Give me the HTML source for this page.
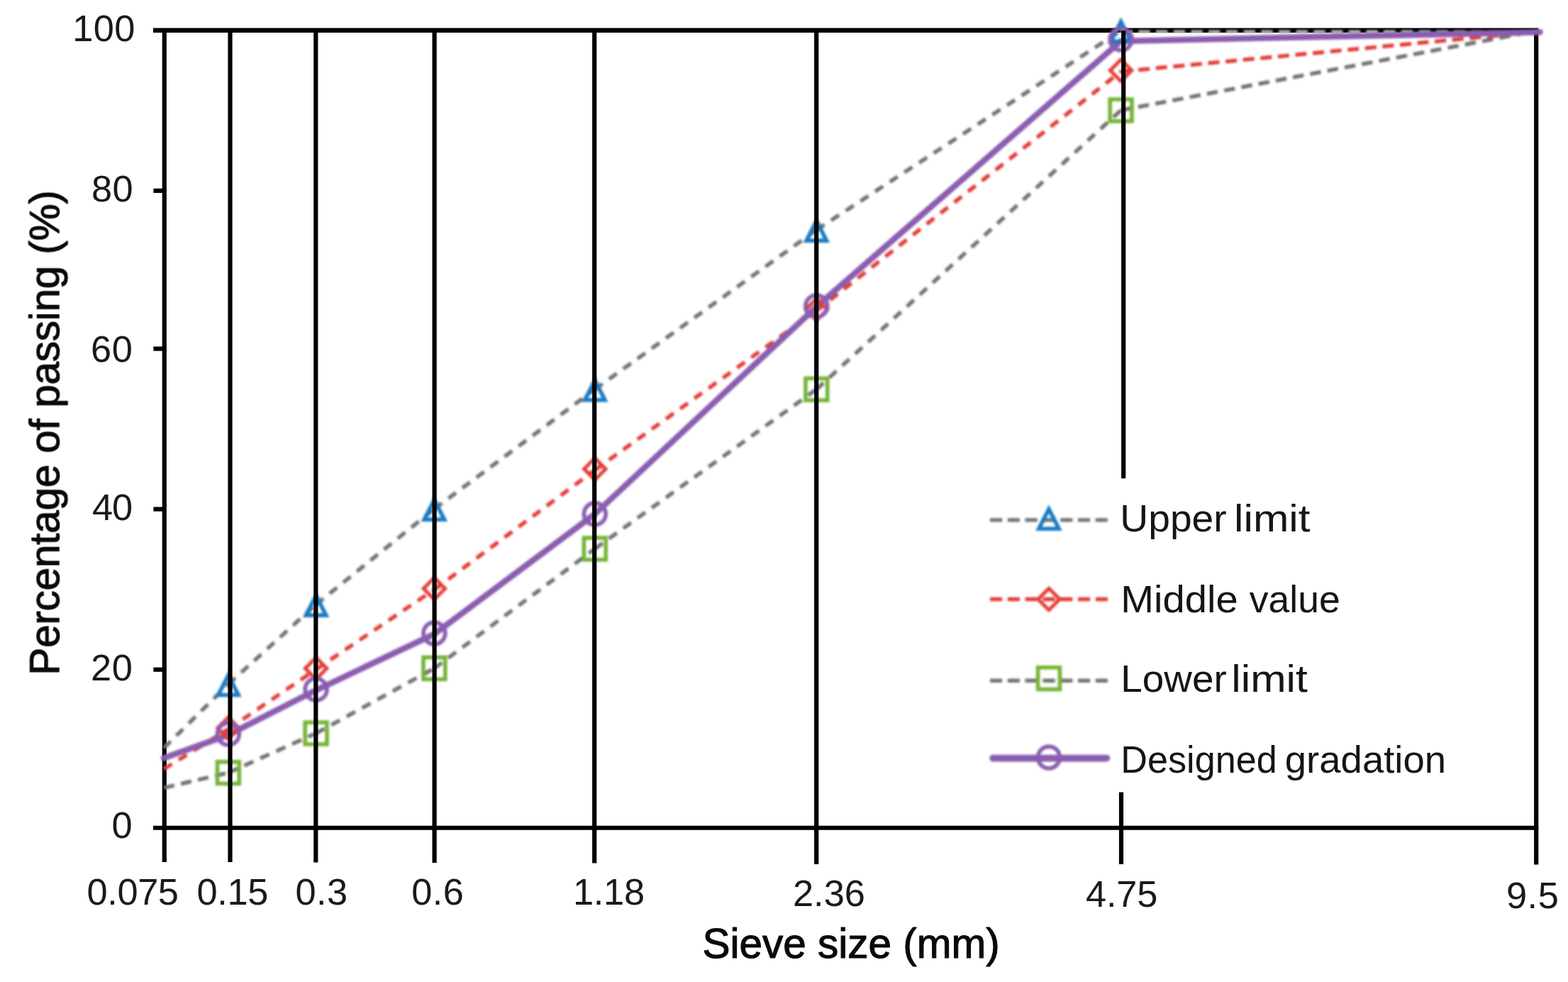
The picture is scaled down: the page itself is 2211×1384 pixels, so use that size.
<!DOCTYPE html>
<html lang="en">
<head>
<meta charset="utf-8">
<title>Gradation curve - percentage of passing vs sieve size</title>
<style>
html,body{margin:0;padding:0;background:#fff;}
body{width:2211px;height:1384px;overflow:hidden;}
svg{display:block;}
text{font-family:"Liberation Sans",sans-serif;fill:#1a1a1a;}
.tick{font-size:52.4px;}
.title{font-size:58.5px;fill:#0a0a0a;stroke:#0a0a0a;stroke-width:1.1px;stroke-linejoin:round;}
.leg{font-size:53px;fill:#151515;}
</style>
</head>
<body>
<svg width="2211" height="1384" viewBox="0 0 2211 1384">
<defs>
<filter id="fa" x="0" y="0" width="2211" height="1384" filterUnits="userSpaceOnUse" color-interpolation-filters="sRGB"><feGaussianBlur stdDeviation="0.75"/></filter>
<filter id="fb" x="0" y="0" width="2211" height="1384" filterUnits="userSpaceOnUse" color-interpolation-filters="sRGB"><feGaussianBlur stdDeviation="1.35"/></filter>
</defs>
<rect x="0" y="0" width="2211" height="1384" fill="#ffffff"/>
<g stroke="#000" stroke-width="6.2" fill="none" filter="url(#fa)">
<line x1="216" y1="42.7" x2="2169.3" y2="42.7" stroke-width="6.5"/>
<line x1="216" y1="1166.8" x2="2169.3" y2="1166.8" stroke-width="6.1"/>
<line x1="216.4" y1="943.7" x2="231.8" y2="943.7"/>
<line x1="216.4" y1="717.6" x2="231.8" y2="717.6"/>
<line x1="216.4" y1="491.5" x2="231.8" y2="491.5"/>
<line x1="216.4" y1="268.8" x2="231.8" y2="268.8"/>
<line x1="231.8" y1="43.1" x2="231.8" y2="1215"/>
<line x1="2166.2" y1="43.1" x2="2166.2" y2="1218.5"/>
</g>
<g filter="url(#fb)">
<g fill="none" stroke-width="5.5">
<line x1="231.0" y1="1054.2" x2="321.9" y2="964.4" stroke="#727272" stroke-dasharray="13.4 11.3"/>
<line x1="321.9" y1="964.4" x2="445.6" y2="852.0" stroke="#727272" stroke-dasharray="13.4 11.3"/>
<line x1="445.6" y1="852.0" x2="612.4" y2="717.2" stroke="#727272" stroke-dasharray="13.4 11.3"/>
<line x1="612.4" y1="717.2" x2="838.8" y2="548.7" stroke="#727272" stroke-dasharray="13.4 11.3"/>
<line x1="838.8" y1="548.7" x2="1151.3" y2="324.0" stroke="#727272" stroke-dasharray="13.4 11.3"/>
<line x1="1151.3" y1="324.0" x2="1580.6" y2="43.1" stroke="#727272" stroke-dasharray="13.4 11.3"/>
<line x1="1580.6" y1="44.6" x2="2168.5" y2="44.6" stroke="#c4c4c4" stroke-width="4" stroke-dasharray="16.5 8.2"/>
<line x1="231.0" y1="1110.4" x2="321.9" y2="1089.1" stroke="#727272" stroke-dasharray="15.2 9.5"/>
<line x1="321.9" y1="1089.1" x2="445.6" y2="1033.5" stroke="#727272" stroke-dasharray="14.1 10.6"/>
<line x1="445.6" y1="1033.5" x2="612.4" y2="941.9" stroke="#727272" stroke-dasharray="13.6 11.1"/>
<line x1="612.4" y1="941.9" x2="838.8" y2="773.4" stroke="#727272" stroke-dasharray="13.4 11.3"/>
<line x1="838.8" y1="773.4" x2="1151.3" y2="548.7" stroke="#727272" stroke-dasharray="13.4 11.3"/>
<line x1="1151.3" y1="548.7" x2="1580.6" y2="155.4" stroke="#727272" stroke-dasharray="13.4 11.3"/>
<line x1="1580.6" y1="155.4" x2="2168.5" y2="43.1" stroke="#727272" stroke-dasharray="15.4 9.3"/>
<line x1="231.0" y1="1083.8" x2="321.9" y2="1027.7" stroke="#e43c36" stroke-dasharray="13.4 11.3"/>
<line x1="321.9" y1="1027.7" x2="445.6" y2="943.4" stroke="#e43c36" stroke-dasharray="13.4 11.3"/>
<line x1="445.6" y1="943.4" x2="612.4" y2="831.0" stroke="#e43c36" stroke-dasharray="13.4 11.3"/>
<line x1="612.4" y1="831.0" x2="838.8" y2="662.5" stroke="#e43c36" stroke-dasharray="13.4 11.3"/>
<line x1="838.8" y1="662.5" x2="1151.3" y2="437.8" stroke="#e43c36" stroke-dasharray="13.4 11.3"/>
<line x1="1151.3" y1="437.8" x2="1580.6" y2="100.8" stroke="#e43c36" stroke-dasharray="13.4 11.3"/>
<line x1="1580.6" y1="100.8" x2="2168.5" y2="44.6" stroke="#e43c36" stroke-dasharray="16.0 8.7"/>
</g>
<polyline points="231.0,1068.4 321.9,1035.7 445.6,972.8 612.4,893.6 838.8,724.5 1151.3,432.3 1580.6,57.9 2171.5,45.3" fill="none" stroke="#8a5db0" stroke-width="8.5" stroke-linejoin="round" stroke-linecap="round"/>
<path d="M321.9,951.8 L336.1,979.5 L307.7,979.5 Z" fill="none" stroke="#177ac4" stroke-width="5.6" stroke-linejoin="miter"/>
<rect x="306.5" y="1073.7" width="30.8" height="30.8" fill="none" stroke="#74b336" stroke-width="5.6"/>
<path d="M321.9,1011.0 L337.1,1026.2 L321.9,1041.4 L306.7,1026.2 Z" fill="none" stroke="#e43c36" stroke-width="5.0" stroke-linejoin="miter"/>
<circle cx="321.9" cy="1034.5" r="15.4" fill="none" stroke="#8a5db0" stroke-width="5.7"/>
<path d="M445.6,839.4 L459.8,867.1 L431.4,867.1 Z" fill="none" stroke="#177ac4" stroke-width="5.6" stroke-linejoin="miter"/>
<rect x="430.2" y="1018.1" width="30.8" height="30.8" fill="none" stroke="#74b336" stroke-width="5.6"/>
<path d="M445.6,926.7 L460.8,941.9 L445.6,957.1 L430.4,941.9 Z" fill="none" stroke="#e43c36" stroke-width="5.0" stroke-linejoin="miter"/>
<circle cx="445.6" cy="971.7" r="15.4" fill="none" stroke="#8a5db0" stroke-width="5.7"/>
<path d="M612.4,704.6 L626.6,732.3 L598.2,732.3 Z" fill="none" stroke="#177ac4" stroke-width="5.6" stroke-linejoin="miter"/>
<rect x="597.0" y="926.5" width="30.8" height="30.8" fill="none" stroke="#74b336" stroke-width="5.6"/>
<path d="M612.4,814.3 L627.6,829.5 L612.4,844.8 L597.2,829.5 Z" fill="none" stroke="#e43c36" stroke-width="5.0" stroke-linejoin="miter"/>
<circle cx="612.4" cy="892.5" r="15.4" fill="none" stroke="#8a5db0" stroke-width="5.7"/>
<path d="M838.8,536.1 L853.0,563.8 L824.6,563.8 Z" fill="none" stroke="#177ac4" stroke-width="5.6" stroke-linejoin="miter"/>
<rect x="823.4" y="758.0" width="30.8" height="30.8" fill="none" stroke="#74b336" stroke-width="5.6"/>
<path d="M838.8,645.8 L854.0,661.0 L838.8,676.2 L823.6,661.0 Z" fill="none" stroke="#e43c36" stroke-width="5.0" stroke-linejoin="miter"/>
<circle cx="838.8" cy="724.3" r="15.4" fill="none" stroke="#8a5db0" stroke-width="5.7"/>
<path d="M1151.3,311.4 L1165.5,339.1 L1137.1,339.1 Z" fill="none" stroke="#177ac4" stroke-width="5.6" stroke-linejoin="miter"/>
<rect x="1135.9" y="533.3" width="30.8" height="30.8" fill="none" stroke="#74b336" stroke-width="5.6"/>
<path d="M1151.3,421.1 L1166.5,436.3 L1151.3,451.5 L1136.1,436.3 Z" fill="none" stroke="#e43c36" stroke-width="5.0" stroke-linejoin="miter"/>
<circle cx="1151.3" cy="431.4" r="15.4" fill="none" stroke="#8a5db0" stroke-width="5.7"/>
<path d="M1580.6,30.5 L1594.8,58.2 L1566.4,58.2 Z" fill="none" stroke="#177ac4" stroke-width="5.6" stroke-linejoin="miter"/>
<rect x="1565.2" y="140.0" width="30.8" height="30.8" fill="none" stroke="#74b336" stroke-width="5.6"/>
<path d="M1580.6,84.1 L1595.8,99.3 L1580.6,114.5 L1565.4,99.3 Z" fill="none" stroke="#e43c36" stroke-width="5.0" stroke-linejoin="miter"/>
<circle cx="1580.6" cy="55.5" r="15.4" fill="none" stroke="#8a5db0" stroke-width="5.7"/>
</g>
<g stroke="#000" stroke-width="6.2" fill="none" filter="url(#fa)">
<line x1="324.5" y1="43.1" x2="324.5" y2="1215"/>
<line x1="445.3" y1="43.1" x2="445.3" y2="1215.5"/>
<line x1="612.6" y1="43.1" x2="612.6" y2="1216"/>
<line x1="838.2" y1="43.1" x2="838.2" y2="1216.5"/>
<line x1="1151.2" y1="43.1" x2="1151.2" y2="1218"/>
<line x1="1584.2" y1="43.1" x2="1584.2" y2="674.3"/>
<line x1="1581.0" y1="1116.5" x2="1581.0" y2="1218"/>
</g>
<g filter="url(#fb)">
<line x1="1396" y1="732.9" x2="1562" y2="732.9" stroke="#727272" stroke-width="5.4" stroke-dasharray="17.2 7.6"/>
<path d="M1479.0,717.5 L1493.2,745.2 L1464.8,745.2 Z" fill="none" stroke="#177ac4" stroke-width="5.6" stroke-linejoin="miter"/>
<line x1="1396" y1="844.5" x2="1562" y2="844.5" stroke="#e43c36" stroke-width="5.4" stroke-dasharray="17.2 7.6"/>
<path d="M1479.0,829.3 L1494.2,844.5 L1479.0,859.7 L1463.8,844.5 Z" fill="none" stroke="#e43c36" stroke-width="5.0" stroke-linejoin="miter"/>
<line x1="1396" y1="959.2" x2="1562" y2="959.2" stroke="#727272" stroke-width="5.4" stroke-dasharray="17.2 7.6"/>
<rect x="1463.6" y="940.7" width="30.8" height="30.8" fill="none" stroke="#74b336" stroke-width="5.6"/>
<line x1="1400" y1="1068.6" x2="1560.5" y2="1068.6" stroke="#8a5db0" stroke-width="9.6" stroke-linecap="round"/>
<circle cx="1479.0" cy="1067.5" r="15.4" fill="none" stroke="#8a5db0" stroke-width="5.7"/>
</g>
<g filter="url(#fa)">
<text class="leg" y="749.0"><tspan x="1579.3" textLength="150.4" lengthAdjust="spacingAndGlyphs">Upper</tspan> <tspan x="1740.1" textLength="107.5" lengthAdjust="spacingAndGlyphs">limit</tspan></text>
<text class="leg" y="863.4"><tspan x="1580.3" textLength="165.4" lengthAdjust="spacingAndGlyphs">Middle</tspan> <tspan x="1761.8" textLength="127.9" lengthAdjust="spacingAndGlyphs">value</tspan></text>
<text class="leg" y="974.8"><tspan x="1580.3" textLength="149.4" lengthAdjust="spacingAndGlyphs">Lower</tspan> <tspan x="1736.3" textLength="107.5" lengthAdjust="spacingAndGlyphs">limit</tspan></text>
<text class="leg" y="1089.0"><tspan x="1580.3" textLength="220.5" lengthAdjust="spacingAndGlyphs">Designed</tspan> <tspan x="1811.8" textLength="227.3" lengthAdjust="spacingAndGlyphs">gradation</tspan></text>
<text class="tick" x="102.2" y="57.8" textLength="88.1" lengthAdjust="spacing">100</text>
<text class="tick" x="128.9" y="283.8" textLength="58.8" lengthAdjust="spacing">80</text>
<text class="tick" x="128.0" y="510.0" textLength="59.0" lengthAdjust="spacing">60</text>
<text class="tick" x="130.0" y="732.7" textLength="57.2" lengthAdjust="spacing">40</text>
<text class="tick" x="128.0" y="959.1" textLength="59.0" lengthAdjust="spacing">20</text>
<text class="tick" x="157.4" y="1181.1">0</text>
<text class="tick" x="122.5" y="1274.5" textLength="129.5" lengthAdjust="spacing">0.075</text>
<text class="tick" x="277.5" y="1274.5" textLength="100.9" lengthAdjust="spacing">0.15</text>
<text class="tick" x="416.5" y="1274.5" textLength="73.7" lengthAdjust="spacing">0.3</text>
<text class="tick" x="580.2" y="1274.5" textLength="73.6" lengthAdjust="spacing">0.6</text>
<text class="tick" x="808.0" y="1275.0" textLength="101.1" lengthAdjust="spacing">1.18</text>
<text class="tick" x="1117.9" y="1277.0" textLength="102.1" lengthAdjust="spacing">2.36</text>
<text class="tick" x="1531.1" y="1278.0" textLength="101.2" lengthAdjust="spacing">4.75</text>
<text class="tick" x="2123.9" y="1279.9" textLength="73.9" lengthAdjust="spacing">9.5</text>
<text class="title" x="990.6" y="1349.5" textLength="419.1" lengthAdjust="spacing">Sieve size (mm)</text>
<text class="title" transform="translate(83.3,951.6) rotate(-90)" textLength="683.4" lengthAdjust="spacing">Percentage of passing (%)</text>
</g>
</svg>
</body>
</html>
